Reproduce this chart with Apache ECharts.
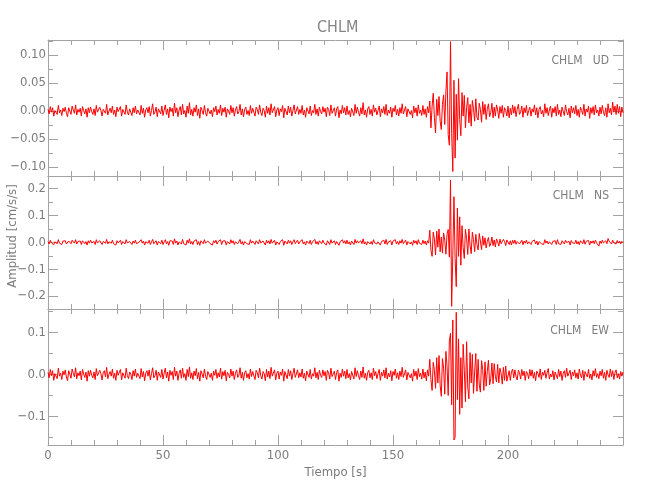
<!DOCTYPE html>
<html><head><meta charset="utf-8">
<script src="https://cdn.jsdelivr.net/npm/echarts@6/dist/echarts.min.js"></script>
<style>html,body{margin:0;padding:0;background:#fff}#c{width:650px;height:500px}</style>
</head><body><div id="c"></div>
<script>
// ---------------- data ----------------
const chartTitle = 'CHLM';
const station = 'CHLM';
const components = ['UD', 'NS', 'EW'];
const xName = 'Tiempo [s]';
const yName = 'Amplitud [cm/s/s]';
const dt = 0.5;                       // sample step of the traces (s)
const xRange = [0, 250];
const xMajor = 50;
const xMinorSplit = 5;
// acceleration traces (cm/s/s), one value every dt seconds from t = 0
const ud = [
.003,-.005,.008,-.002,.006,-.009,.001,.004,-.006,.010,-.003,.002,-.008,.005,-.001,.007,-.004,-.010,.006,0,
-.006,.009,.002,-.004,.011,-.007,.003,-.002,.005,-.009,.008,.001,-.005,.004,-.011,.006,-.003,.007,-.001,-.006,
.004,-.008,.010,-.002,-.005,.007,.001,-.009,.003,.006,-.004,.012,-.007,0,.005,-.003,.009,-.006,.002,-.010,
.007,-.001,-.004,.008,-.009,.003,.005,-.006,.011,-.002,-.007,.004,.001,-.008,.006,-.003,.009,-.005,.002,-.001,
-.007,.010,-.004,.005,-.011,.002,.006,-.003,.008,-.009,.001,.013,-.006,-.002,.007,-.010,.004,.003,-.005,.009,
-.008,.002,.011,-.006,.004,-.012,.007,-.001,.005,-.009,.014,-.003,.006,-.010,.002,.008,-.007,.012,-.005,.001,
-.011,.009,-.004,.015,-.007,.003,-.009,.006,-.002,.011,-.008,.004,-.013,.007,.001,-.006,.010,-.003,-.009,.005,
.008,-.005,.002,-.010,.006,-.001,.009,-.007,.003,-.004,.011,-.008,.005,-.002,.007,-.011,.004,0,-.006,.010,
-.003,.006,-.009,.002,.008,-.005,-.001,.012,-.007,.004,-.010,.003,.007,-.006,.001,-.008,.010,-.004,.005,-.002,
-.009,.007,.003,-.006,.011,-.002,-.008,.005,.001,-.011,.009,-.004,.006,-.007,.013,-.003,-.005,.008,-.010,.002,
.006,-.008,.004,-.001,.010,-.012,.005,.002,-.007,.009,-.003,.007,-.009,.001,.011,-.005,-.002,.008,-.006,.003,
-.004,.010,-.007,.002,-.011,.006,.003,-.005,.009,-.008,.001,-.003,.012,-.006,.004,-.009,.007,-.001,-.005,.008,
-.002,.005,-.010,.007,.003,-.008,.011,-.004,-.001,.006,-.009,.004,.008,-.012,.002,-.005,.010,-.003,.006,-.007,
.009,-.006,.001,-.010,.005,.003,-.008,.012,-.004,.007,-.002,-.009,.006,-.005,.015,-.007,.002,-.011,.004,.008,
-.006,.003,-.009,.011,-.002,.005,-.007,.001,.009,-.010,.004,-.003,.008,-.006,.012,-.008,.002,-.004,.007,-.011,
.005,-.001,.010,-.007,.003,-.009,.006,-.004,.013,-.005,-.002,.008,-.010,.004,.007,-.006,.001,-.012,.009,-.003,
.006,-.009,.011,-.004,.002,-.008,.010,-.006,.004,-.011,.008,-.003,.018,-.030,.009,.032,-.012,-.039,.021,-.008,
.026,-.018,-.033,.012,.029,-.024,.035,.070,-.042,-.061,.124,-.040,-.108,.055,-.084,.030,-.052,.058,-.015,-.044,
.033,-.009,.028,-.030,.006,.024,-.021,.012,-.027,.019,.004,-.018,.022,-.011,-.016,.014,.003,-.020,.017,-.006,
.012,-.015,.004,.013,-.010,-.003,.014,-.012,.007,-.009,.011,.002,-.013,.008,-.004,.010,-.011,.006,.001,-.009,
.009,-.012,.005,-.007,.011,-.004,.008,-.010,.003,.012,-.006,-.002,.009,-.011,.006,-.003,.010,-.008,.001,.007,
-.009,.004,-.002,.011,-.007,.006,-.012,.003,.008,-.005,.001,-.010,.013,-.004,.006,-.008,.002,.009,-.011,.005,
-.003,.008,-.009,.012,-.006,.002,-.010,.007,.004,-.008,.011,-.001,-.007,.005,-.012,.009,-.003,.006,-.005,.010,
-.008,.003,-.011,.007,.001,-.006,.012,-.009,.004,-.002,.009,-.013,.006,-.004,.008,-.007,.011,-.003,.002,-.009,
.007,-.005,.010,-.002,-.008,.006,-.011,.013,-.003,.005,-.007,.016,-.002,.009,-.006,.012,-.004,.008,-.010,.007,
-.003
];
const ns = [
.003,-.006,.008,-.002,.005,-.009,.002,.006,-.005,.010,-.003,0,-.008,.005,-.002,.006,-.006,-.010,.005,.002,
-.005,.008,.002,-.003,.010,-.006,.003,-.002,.005,-.008,.006,0,-.005,.003,-.010,.006,-.003,.008,-.002,-.005,
.003,-.008,.010,-.002,-.005,.006,0,-.008,.003,.005,-.003,.011,-.006,.002,.005,-.003,.008,-.005,.002,-.010,
.006,-.002,-.003,.008,-.008,.003,.005,-.006,.010,-.002,-.006,.003,.002,-.008,.005,-.003,.008,-.005,.002,0,
-.006,.010,-.003,.005,-.010,.002,.006,-.003,.008,-.008,.002,.011,-.005,-.002,.006,-.010,.003,.003,-.005,.008,
-.008,.002,.010,-.005,.003,-.011,.006,0,.005,-.008,.013,-.003,.005,-.010,.002,.008,-.006,.011,-.005,.002,
-.010,.008,-.003,.013,-.006,.003,-.008,.005,-.002,.010,-.008,.003,-.011,.006,0,-.005,.010,-.003,-.008,.005,
.008,-.005,.002,-.010,.006,-.002,.008,-.006,.003,-.003,.010,-.008,.005,-.002,.006,-.010,.003,0,-.006,.010,
-.003,.006,-.008,.002,.008,-.005,-.002,.011,-.006,.003,-.010,.003,.006,-.005,.002,-.008,.010,-.003,.005,-.002,
-.008,.006,.003,-.006,.010,-.002,-.008,.005,.002,-.010,.008,-.003,.006,-.006,.011,-.003,-.005,.008,-.010,.002,
.005,-.008,.003,0,.010,-.011,.005,.002,-.006,.008,-.003,.006,-.008,.002,.010,-.005,-.002,.008,-.006,.003,
-.003,.010,-.006,.002,-.010,.005,.003,-.005,.008,-.008,.002,-.003,.011,-.006,.003,-.008,.006,0,-.005,.008,
-.002,.005,-.010,.006,.003,-.008,.010,-.003,-.002,.006,-.008,.003,.008,-.011,.002,-.005,.010,-.003,.006,-.006,
.008,-.006,.002,-.010,.005,.003,-.008,.011,-.003,.006,-.002,-.008,.006,-.005,.013,-.006,.002,-.010,.003,.008,
-.006,.003,-.008,.010,-.002,.005,-.006,.002,.008,-.010,.003,-.003,.008,-.006,.011,-.008,.002,-.003,.006,-.010,
.005,-.002,.010,-.006,.003,-.008,.006,-.003,.011,-.005,-.002,.008,-.010,.003,.006,-.006,.002,-.011,.008,-.003,
.006,-.008,.010,-.003,.002,-.008,.008,-.005,.005,-.010,.006,-.003,.045,-.030,-.052,.038,.012,-.047,.042,-.018,
.050,-.035,.020,-.040,.035,.008,-.044,.031,.048,-.055,.232,-.238,-.050,.170,-.060,-.165,.128,-.052,.095,-.085,
.062,-.020,-.060,.048,.015,-.045,.050,-.012,-.042,.038,.010,-.035,.030,-.008,-.028,.033,.005,-.027,.024,-.011,
.017,-.021,.004,.018,-.015,-.006,.020,-.012,.009,-.017,.013,.002,-.014,.012,-.005,-.010,.011,.003,-.012,.009,
.010,-.008,.006,-.010,.008,-.004,.009,-.007,.003,.010,-.006,-.002,.008,-.009,.005,-.003,.008,-.006,.002,.007,
-.008,.004,-.002,.009,-.006,.005,-.010,.003,.007,-.005,.001,-.008,.010,-.003,.005,-.006,.002,.008,-.008,.004,
-.003,.006,-.008,.010,-.005,.002,-.008,.006,.003,-.006,.008,-.001,-.005,.004,-.010,.007,-.002,.005,-.004,.008,
-.006,.003,-.009,.006,.001,-.005,.010,-.007,.004,-.001,.007,-.010,.005,-.003,.006,-.005,.008,-.002,.002,-.014,
.005,-.004,.008,-.002,-.008,.006,-.005,.014,.004,.010,-.006,.008,-.002,.005,-.006,.007,-.003,.005,-.006,.004,
-.002
];
const ew = [
.005,-.008,.012,-.003,.009,-.014,.002,.006,-.010,.015,-.004,.003,-.012,.008,-.001,.011,-.006,-.015,.009,.001,
-.009,.013,.003,-.006,.016,-.010,.004,-.003,.008,-.013,.012,.001,-.007,.006,-.016,.009,-.004,.010,-.002,-.008,
.006,-.012,.014,-.003,-.007,.010,.002,-.013,.004,.009,-.006,.017,-.010,0,.007,-.004,.013,-.009,.003,-.014,
.010,-.002,-.006,.012,-.013,.004,.007,-.009,.015,-.003,-.010,.006,.001,-.012,.009,-.004,.013,-.007,.003,-.001,
-.010,.014,-.006,.007,-.015,.003,.009,-.004,.011,-.013,.002,.016,-.008,-.003,.010,-.014,.006,.004,-.007,.012,
-.011,.003,.015,-.008,.006,-.016,.010,-.002,.007,-.012,.017,-.004,.008,-.014,.003,.011,-.009,.015,-.007,.002,
-.014,.012,-.005,.018,-.009,.004,-.012,.008,-.003,.014,-.010,.005,-.016,.009,.001,-.008,.013,-.004,-.012,.007,
.011,-.007,.003,-.014,.008,-.002,.012,-.009,.004,-.006,.015,-.011,.007,-.003,.010,-.015,.005,0,-.008,.013,
-.004,.008,-.012,.003,.011,-.007,-.002,.016,-.009,.005,-.014,.004,.009,-.008,.002,-.011,.013,-.005,.007,-.003,
-.012,.010,.004,-.008,.015,-.003,-.011,.007,.002,-.015,.012,-.006,.008,-.010,.017,-.004,-.007,.011,-.013,.003,
.008,-.011,.006,-.002,.013,-.016,.007,.003,-.010,.012,-.004,.009,-.012,.002,.015,-.007,-.003,.011,-.008,.004,
-.006,.013,-.009,.003,-.015,.008,.004,-.007,.012,-.011,.002,-.004,.016,-.008,.005,-.012,.010,-.002,-.007,.011,
-.003,.007,-.014,.010,.004,-.011,.015,-.005,-.002,.008,-.012,.005,.011,-.016,.003,-.007,.013,-.004,.008,-.010,
.012,-.008,.002,-.013,.007,.004,-.011,.016,-.005,.009,-.003,-.012,.008,-.007,.018,-.009,.003,-.014,.005,.010,
-.008,.004,-.012,.015,-.003,.007,-.010,.002,.012,-.014,.005,-.004,.011,-.008,.016,-.011,.003,-.006,.009,-.015,
.007,-.002,.013,-.009,.004,-.012,.008,-.005,.017,-.007,-.003,.011,-.013,.005,.009,-.008,.002,-.016,.012,-.004,
.008,-.012,.014,-.005,.003,-.011,.013,-.008,.006,-.015,.011,-.004,.036,-.012,-.038,.029,.010,-.033,.040,-.020,
.045,-.026,-.052,.038,.015,-.047,.055,.020,-.050,.080,.098,-.072,.130,-.156,-.150,.148,-.060,.085,-.095,.040,
-.080,.072,.010,-.065,.078,-.030,-.058,.052,-.020,.048,-.045,.006,.050,-.040,.036,-.025,-.042,.033,.012,-.038,
.030,-.028,.008,.034,-.025,-.010,.027,-.022,.026,-.004,-.018,.024,-.020,.015,.003,-.023,.017,-.014,.020,-.016,
-.012,.009,-.014,.006,.013,-.008,.011,-.005,-.013,.010,.004,-.011,.012,-.003,.008,-.014,.007,.002,-.010,.012,
-.004,.011,-.009,.005,-.015,.008,.003,-.007,.013,-.012,.006,-.002,.010,-.009,.004,.014,-.011,.001,-.006,.009,
-.013,.006,.002,-.010,.012,-.005,.008,-.014,.003,.009,-.007,.015,-.004,-.001,.010,-.012,.006,-.003,.011,-.008,
.004,-.011,.013,-.002,-.008,.010,-.014,.007,.003,-.006,.012,-.009,.001,-.013,.009,-.004,.014,-.007,.002,-.010,
.008,-.003,.012,-.009,.005,-.014,.010,-.001,-.007,.013,-.005,.009,-.012,.004,.011,-.008,.002,-.011,.007,-.004,
.006
];
const traces = [ud, ns, ew];
// y extent of each panel, spacing of labelled ticks, spacing of minor ticks, label decimals
const yMin = [-0.116, -0.248, -0.168];
const yMax = [0.127, 0.247, 0.156];
const yMajor = [0.05, 0.1, 0.1];
const yMinor = [0.025, 0.05, 0.05];
const yDecimals = [2, 1, 1];

// ---------------- styling / layout ----------------
const FONT = "'Liberation Sans Narrow','DejaVu Sans Condensed','Liberation Sans',sans-serif";
const AXC = '#a3a3a3';
const TXC = '#7c7c7c';
const LEFT = 48, WIDTH = 575;
const panels = [{top: 40, height: 136}, {top: 176, height: 133}, {top: 309, height: 136}];
const labelTop = [55, 190, 325];

function fmt(dec) {
  return function (v) {
    if (Math.abs(v) < 1e-9) v = 0;
    return v.toFixed(dec).replace('-', '\u2212');
  };
}

const grid = [], xAxis = [], yAxis = [], series = [], graphic = [];
panels.forEach(function (p, i) {
  grid.push({left: LEFT, width: WIDTH, top: p.top, height: p.height});
  ['bottom', 'top'].forEach(function (pos) {
    const isLabelAxis = (pos === 'bottom' && i === 2);
    xAxis.push({
      type: 'value', gridIndex: i, position: pos,
      min: xRange[0], max: xRange[1], interval: xMajor,
      axisLine: {show: true, onZero: false, lineStyle: {color: AXC, width: 1}},
      axisTick: {show: true, inside: true, length: 10, lineStyle: {color: AXC, width: 1}},
      minorTick: {show: true, splitNumber: xMinorSplit, length: 5, lineStyle: {color: AXC, width: 1}},
      splitLine: {show: false}, minorSplitLine: {show: false},
      axisLabel: {show: isLabelAxis, margin: 4, showMaxLabel: false, color: TXC, fontSize: 13, fontFamily: FONT},
      name: isLabelAxis ? xName : '', nameLocation: 'middle', nameGap: 21,
      nameTextStyle: {color: TXC, fontSize: 13, fontFamily: FONT}
    });
  });
  ['left', 'right'].forEach(function (pos) {
    [[yMajor[i], 10, true], [yMinor[i], 5, false]].forEach(function (cfg) {
      yAxis.push({
        type: 'value', gridIndex: i, position: pos,
        min: yMin[i], max: yMax[i], minInterval: cfg[0], maxInterval: cfg[0],
        axisLine: {show: cfg[2], onZero: false, lineStyle: {color: AXC, width: 1}},
        axisTick: {show: true, inside: true, length: cfg[1], lineStyle: {color: AXC, width: 1}},
        splitLine: {show: false},
        axisLabel: {show: cfg[2] && pos === 'left', margin: 2, showMinLabel: false, showMaxLabel: false,
          color: TXC, fontSize: 13, fontFamily: FONT, formatter: fmt(yDecimals[i])}
      });
    });
  });
  series.push({
    type: 'line', xAxisIndex: i * 2, yAxisIndex: i * 4,
    data: traces[i].map(function (v, k) { return [k * dt, v]; }),
    showSymbol: false, symbol: 'none', silent: true,
    lineStyle: {color: '#ff0000', width: 1}
  });
  graphic.push({
    type: 'text', right: 650 - 609, top: labelTop[i],
    style: {text: station + '   ' + components[i], fill: TXC, fontSize: 12, fontFamily: FONT}
  });
});
graphic.push({
  type: 'text', x: 13, y: 236, rotation: Math.PI / 2,
  style: {text: yName, fill: TXC, fontSize: 13, fontFamily: FONT, align: 'center', verticalAlign: 'middle'}
});

const chart = echarts.init(document.getElementById('c'), null, {renderer: 'canvas'});
chart.setOption({
  animation: false,
  backgroundColor: '#ffffff',
  title: {text: chartTitle, left: 312, top: 15,
    textStyle: {color: '#858585', fontSize: 16, fontWeight: 'normal', fontFamily: FONT}},
  grid: grid, xAxis: xAxis, yAxis: yAxis, series: series, graphic: graphic
});
</script>
</body></html>
